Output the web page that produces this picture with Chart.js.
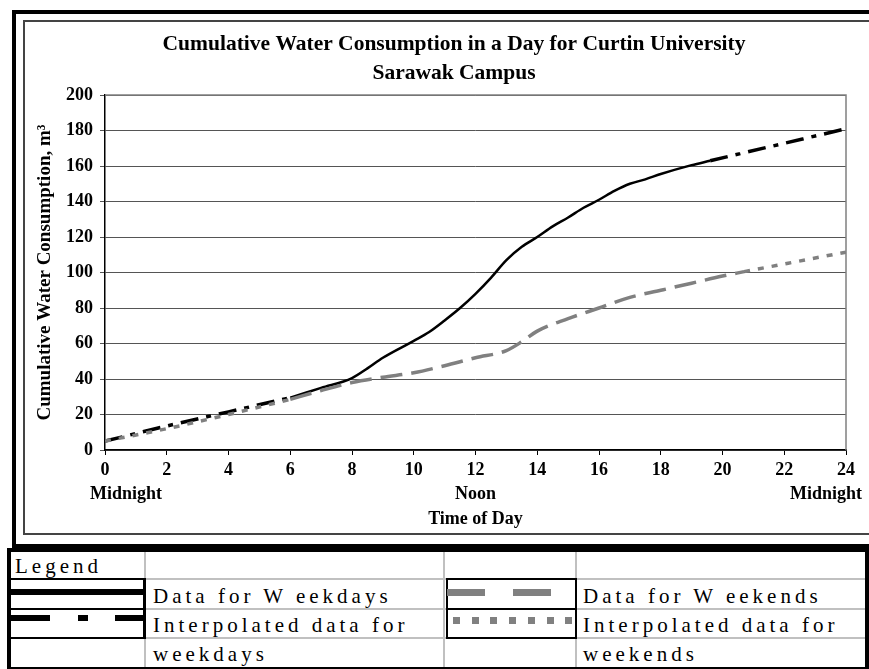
<!DOCTYPE html>
<html>
<head>
<meta charset="utf-8">
<script src="https://cdn.jsdelivr.net/npm/chart.js@4.4.0/dist/chart.umd.min.js"></script>
<style>
  body { margin: 0; width: 869px; height: 669px; overflow: hidden; background: #fff; position: relative;
         font-family: "Liberation Serif", "Times New Roman", serif; }
  .b { position: absolute; background: #000; }
  .g { position: absolute; background: #c0c0c0; }
  .t { position: absolute; font-size: 21px; letter-spacing: 4px; color: #000; white-space: nowrap; line-height: 1; }
  #wrap { position: absolute; left: 25px; top: 22px; width: 844px; height: 512px; }
</style>
</head>
<body>
<!-- cadre du graphique -->
<div class="b" style="left:12px;top:10px;width:857px;height:4px"></div>
<div class="b" style="left:12px;top:10px;width:4px;height:540px"></div>
<div class="b" style="left:12px;top:544px;width:857px;height:8px"></div>
<div class="b" style="left:23px;top:20px;width:846px;height:2px;background:#444"></div>
<div class="b" style="left:23px;top:20px;width:2px;height:515px;background:#444"></div>
<div class="b" style="left:23px;top:533px;width:846px;height:2px;background:#444"></div>
<div id="wrap"><canvas id="grafico"></canvas></div>

<!-- tableau de légende -->
<div class="b" style="left:7px;top:548px;width:862px;height:4px"></div>
<div class="b" style="left:7px;top:548px;width:4px;height:121px"></div>
<div class="b" style="left:7px;top:667px;width:862px;height:2px"></div>
<div class="b" style="left:865px;top:548px;width:4px;height:121px"></div>
<div class="g" style="left:144px;top:552px;width:2px;height:115px"></div>
<div class="g" style="left:443px;top:552px;width:2px;height:115px"></div>
<div class="g" style="left:575px;top:552px;width:2px;height:115px"></div>
<div class="g" style="left:11px;top:578px;width:854px;height:2px"></div>
<div class="g" style="left:11px;top:608px;width:854px;height:2px"></div>
<div class="g" style="left:11px;top:637px;width:854px;height:2px"></div>
<div class="b" style="left:11px;top:578px;width:135px;height:2px"></div>
<div class="b" style="left:11px;top:608px;width:135px;height:2px"></div>
<div class="b" style="left:11px;top:637px;width:135px;height:2px"></div>
<div class="b" style="left:143px;top:578px;width:3px;height:61px"></div>
<div class="b" style="left:446px;top:578px;width:131px;height:2px"></div>
<div class="b" style="left:446px;top:608px;width:131px;height:2px"></div>
<div class="b" style="left:446px;top:637px;width:131px;height:2px"></div>
<div class="b" style="left:446px;top:578px;width:2px;height:61px"></div>
<div class="b" style="left:575px;top:578px;width:2px;height:61px"></div>
<!-- échantillons -->
<div class="b" style="left:11px;top:589px;width:134px;height:6px"></div>
<div class="b" style="left:11px;top:615px;width:39px;height:6px"></div>
<div class="b" style="left:78px;top:615px;width:10px;height:6px"></div>
<div class="b" style="left:115px;top:615px;width:30px;height:6px"></div>
<div class="b" style="left:447px;top:589px;width:38px;height:7px;background:#808080"></div>
<div class="b" style="left:513px;top:589px;width:38px;height:7px;background:#808080"></div>
<div id="pontos"></div>
<div class="t" style="left:15px;top:556px">Legend</div>
<div class="t" style="left:153px;top:586px">Data for W eekdays</div>
<div class="t" style="left:153px;top:615px">Interpolated data for</div>
<div class="t" style="left:153px;top:644px">weekdays</div>
<div class="t" style="left:583px;top:586px">Data for W eekends</div>
<div class="t" style="left:583px;top:615px">Interpolated data for</div>
<div class="t" style="left:583px;top:644px">weekends</div>

<script>
// Dados (horas, m³)
const wdStartHours = [0, 2, 4, 6];
const wdStartValues = [5, 13.5, 21.5, 29.5];
const wdHours = [6, 7, 8, 8.5, 9, 10, 10.5, 11, 11.5, 12, 12.5, 13, 13.5, 14, 14.5, 15, 15.5, 16, 16.5, 17, 17.5, 18, 19, 19.6];
const wdValues = [29.5, 35, 40.5, 46, 52, 61.5, 66.5, 73, 80, 88, 97, 107, 114.5, 120, 126, 131, 136.5, 141, 146, 150, 152.5, 155.5, 160.5, 163];
const wdEndHours = [19.6, 24];
const wdEndValues = [163, 181];

const weStartHours = [0, 2, 4, 6];
const weStartValues = [5, 12, 20, 28.5];
const weHours = [6, 7, 8, 9, 10, 11, 12, 13, 13.5, 14, 15, 16, 17, 18, 19, 20, 20.7];
const weValues = [28.5, 33.5, 38, 41, 43.5, 47.5, 52, 56, 61, 67, 74, 80, 86, 90, 94, 98, 100.5];
const weEndHours = [20.7, 24];
const weEndValues = [100.5, 111.5];

const xSubLabels = { 0: "Midnight", 12: "Noon", 24: "Midnight" };
const titulo = ["Cumulative Water Consumption in a Day for Curtin University", "Sarawak Campus"];

const FONTE = "'Liberation Serif', 'Times New Roman', serif";

// pontos da legenda (linha pontilhada cinza)
(function () {
  const box = document.getElementById("pontos");
  for (let i = 0; i < 7; i++) {
    const d = document.createElement("div");
    d.className = "b";
    d.style.cssText = `left:${453 + i * 18.7}px;top:617px;width:7px;height:7px;background:#808080`;
    box.appendChild(d);
  }
})();

function pontos(xs, ys) {
  return xs.map((x, i) => ({ x: x, y: ys[i] }));
}

function serie(xs, ys, cor, largura, traco) {
  return {
    data: pontos(xs, ys),
    borderColor: cor,
    borderWidth: largura,
    borderDash: traco,
    pointRadius: 0,
    fill: false,
    cubicInterpolationMode: "monotone",
  };
}

// Moldura da área do gráfico e rótulos Midnight / Noon
const extras = {
  id: "extras",
  afterDraw(chart) {
    const { ctx, chartArea: a, scales } = chart;
    ctx.save();
    ctx.strokeStyle = "#808080";
    ctx.lineWidth = 1.5;
    ctx.beginPath();
    ctx.moveTo(a.left, a.top);
    ctx.lineTo(a.right, a.top);
    ctx.lineTo(a.right, a.bottom);
    ctx.stroke();
    ctx.fillStyle = "#000";
    ctx.font = "bold 18px " + FONTE;
    ctx.textAlign = "center";
    ctx.textBaseline = "middle";
    const x = scales.x;
    Object.keys(xSubLabels).forEach((h) => {
      let px = x.getPixelForValue(Number(h));
      if (Number(h) === x.min) px += 21;
      if (Number(h) === x.max) px -= 20;
      ctx.fillText(xSubLabels[h], px, a.bottom + 44);
    });
    ctx.restore();
  },
};

new Chart(document.getElementById("grafico"), {
  type: "line",
  data: {
    datasets: [
      serie(weStartHours, weStartValues, "#808080", 3.5, [6, 8]),
      serie(weHours, weValues, "#808080", 3.5, [22, 9]),
      serie(weEndHours, weEndValues, "#808080", 3.5, [6, 8]),
      serie(wdStartHours, wdStartValues, "#000", 3.5, [18, 8, 5, 8]),
      serie(wdHours, wdValues, "#000", 2.5, []),
      serie(wdEndHours, wdEndValues, "#000", 3.5, [18, 8, 5, 8]),
    ],
  },
  options: {
    responsive: true,
    maintainAspectRatio: false,
    animation: false,
    // padding esquerdo maior para centralizar o título como no original
    layout: { padding: { left: 37, right: 23, top: 0, bottom: 0 } },
    plugins: {
      legend: { display: false },
      tooltip: { enabled: false },
      title: {
        display: true,
        text: titulo,
        color: "#000",
        font: { family: FONTE, size: 21.5, weight: "bold", lineHeight: 1.35 },
        padding: { top: 8, bottom: 7 },
      },
    },
    scales: {
      x: {
        type: "linear",
        min: 0,
        max: 24,
        afterFit(s) { s.height = 84; },
        ticks: { stepSize: 2, color: "#000", padding: 5, maxRotation: 0, font: { family: FONTE, size: 18, weight: "bold" } },
        grid: { drawOnChartArea: false, tickLength: 5, color: "#000" },
        border: { color: "#000", width: 1.5 },
        title: { display: true, text: "Time of Day", color: "#000", padding: { bottom: 4 }, font: { family: FONTE, size: 18, weight: "bold" } },
      },
      y: {
        min: 0,
        max: 200,
        afterFit(s) { s.width = 43; },
        ticks: { stepSize: 20, color: "#000", padding: 7, font: { family: FONTE, size: 18, weight: "bold" } },
        grid: { color: "#555", tickLength: 5 },
        border: { color: "#000", width: 1.5 },
        title: { display: true, text: "Cumulative Water Consumption, m³", color: "#000", padding: { top: -28 }, font: { family: FONTE, size: 19, weight: "bold" } },
      },
    },
  },
  plugins: [extras],
});
</script>
</body>
</html>
